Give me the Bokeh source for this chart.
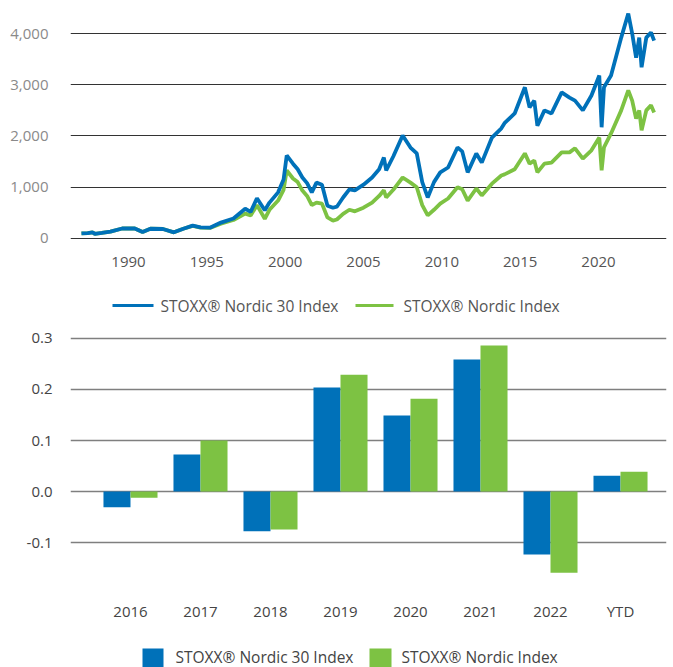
from bokeh.plotting import figure
from bokeh.models import Range1d, FixedTicker, NumeralTickFormatter, ColumnDataSource
from bokeh.core.properties import value
from bokeh.layouts import column
from bokeh.transform import dodge
from bokeh.embed import file_html
from bokeh.resources import INLINE

# ---------------- data: index levels ----------------
years = [1987.0, 1987.4, 1987.7, 1987.85, 1988.3, 1988.85, 1989.6, 1990.4, 1990.9, 1991.4,
         1992.2, 1992.9, 1993.5, 1994.1, 1994.6, 1995.2, 1995.9, 1996.7, 1997.45, 1997.8,
         1998.2, 1998.7, 1999.0, 1999.55, 1999.9, 2000.1, 2000.5, 2000.8, 2001.1, 2001.4,
         2001.7, 2002.0, 2002.35, 2002.7, 2003.05, 2003.3, 2003.7, 2004.1, 2004.45, 2005.0,
         2005.55, 2006.0, 2006.3, 2006.45, 2006.9, 2007.5, 2008.0, 2008.4, 2008.75, 2009.1,
         2009.5, 2009.9, 2010.4, 2011.0, 2011.3, 2011.65, 2012.2, 2012.55, 2013.2, 2013.8,
         2014.0, 2014.65, 2015.3, 2015.6, 2015.9, 2016.1, 2016.55, 2017.0, 2017.65, 2018.15,
         2018.5, 2019.0, 2019.55, 2020.05, 2020.2, 2020.35, 2020.8, 2021.45, 2021.9, 2022.15,
         2022.4, 2022.6, 2022.75, 2023.05, 2023.35, 2023.55]
nordic30 = [98, 105, 118, 92, 110, 135, 195, 195, 125, 190,
            185, 120, 190, 250, 215, 210, 310, 390, 580, 520,
            785, 550, 700, 900, 1150, 1620, 1460, 1350, 1190, 1080,
            900, 1090, 1050, 640, 600, 620, 800, 960, 940, 1050,
            1190, 1350, 1580, 1330, 1600, 2010, 1775, 1660, 1100, 800,
            1100, 1290, 1385, 1775, 1700, 1290, 1660, 1480, 1970, 2150,
            2250, 2440, 2950, 2560, 2690, 2200, 2500, 2440, 2850, 2750,
            2690, 2500, 2790, 3180, 2170, 2950, 3180, 3920, 4390, 4000,
            3530, 3920, 3340, 3920, 4020, 3860]
nordic = [98, 105, 118, 92, 110, 135, 195, 195, 125, 190,
          185, 120, 190, 245, 210, 205, 290, 360, 485, 450,
          650, 385, 560, 740, 950, 1330, 1170, 1100, 935, 830,
          650, 700, 680, 410, 350, 370, 480, 560, 530, 600,
          700, 830, 940, 800, 950, 1190, 1090, 1000, 650, 450,
          560, 680, 780, 1000, 960, 740, 975, 840, 1070, 1230,
          1250, 1350, 1660, 1460, 1520, 1290, 1460, 1480, 1680, 1680,
          1760, 1560, 1720, 1970, 1330, 1780, 2050, 2500, 2890, 2690,
          2340, 2500, 2110, 2500, 2600, 2460]
year_ticks = [1990, 1995, 2000, 2005, 2010, 2015, 2020]
level_ticks = [0, 1000, 2000, 3000, 4000]

# ---------------- data: annual returns ----------------
bar_categories = ["2016", "2017", "2018", "2019", "2020", "2021", "2022", "YTD"]
bar_nordic30 = [-0.031, 0.0725, -0.078, 0.204, 0.149, 0.259, -0.1235, 0.031]
bar_nordic = [-0.012, 0.100, -0.0745, 0.229, 0.182, 0.286, -0.159, 0.039]
return_ticks = [-0.1, 0.0, 0.1, 0.2, 0.3]

series_names = ["STOXX® Nordic 30 Index", "STOXX® Nordic Index"]

BLUE = "#0071B9"
GREEN = "#7DC243"
FONT = "Open Sans"
W = 673
LEFT = 70    # common plot-frame left edge (column aligns frames)
RIGHT = 7    # common right border


def style_axes(p, label_color):
    for ax in (p.xaxis[0], p.yaxis[0]):
        ax.axis_line_color = None
        ax.major_tick_line_color = None
        ax.minor_tick_line_color = None
        ax.major_label_text_font = FONT
        ax.major_label_text_font_size = "15px"
        ax.major_label_text_color = label_color


def legend_strip(height):
    # a strip whose data units equal page pixels (y downward) for the legend key
    f = figure(width=W, height=height, output_backend="svg", toolbar_location=None,
               x_range=Range1d(LEFT, W - RIGHT), y_range=Range1d(height, 0),
               x_axis_location=None, y_axis_location=None,
               min_border_left=LEFT, min_border_right=RIGHT, min_border_top=0, min_border_bottom=0)
    f.outline_line_color = None
    f.grid.visible = False
    return f


# ================= top line chart =================
p1 = figure(width=W, height=285, output_backend="svg", toolbar_location=None,
            x_range=Range1d(1986.30, 2024.34), y_range=Range1d(-20, 4449),
            min_border_left=LEFT, min_border_right=RIGHT, min_border_top=10, min_border_bottom=46)
p1.outline_line_color = None

p1.line(years, nordic, line_color=GREEN, line_width=3.8)
p1.line(years, nordic30, line_color=BLUE, line_width=3.8)

p1.xgrid.grid_line_color = None
p1.ygrid.ticker = FixedTicker(ticks=level_ticks)
p1.ygrid.grid_line_color = "#333333"
p1.ygrid.grid_line_width = 1.2

p1.yaxis.ticker = FixedTicker(ticks=level_ticks)
p1.yaxis.formatter = NumeralTickFormatter(format="0,0")
p1.xaxis.ticker = FixedTicker(ticks=year_ticks)
style_axes(p1, "#555555")
p1.yaxis.major_label_text_color = "#8a8a8a"
p1.yaxis.major_label_standoff = 16
p1.xaxis.major_label_standoff = 11

# legend strip for the line chart (key positions in page pixels)
L1 = legend_strip(40)
L1.segment(x0=[112, 355], x1=[153, 393], y0=[20, 20], y1=[20, 20],
           line_color=[BLUE, GREEN], line_width=3)
L1.text(x=[160, 403], y=[20, 20], text=series_names, text_baseline="middle",
        text_align="left", text_font=value(FONT), text_font_size="15.5px",
        text_color="#555555")

# ================= bottom bar chart =================
idx = list(range(len(bar_categories)))
src = ColumnDataSource(dict(x=idx, n30=bar_nordic30, n=bar_nordic))

p2 = figure(width=W, height=315, output_backend="svg", toolbar_location=None,
            x_range=Range1d(-0.857, 7.657), y_range=Range1d(-0.194, 0.3078),
            min_border_left=LEFT, min_border_right=RIGHT, min_border_top=9, min_border_bottom=50)
p2.outline_line_color = None

bw = 0.386
p2.vbar(x=dodge("x", -bw / 2, range=p2.x_range), top="n30", bottom=0, width=bw,
        source=src, fill_color=BLUE, line_color=None)
p2.vbar(x=dodge("x", bw / 2, range=p2.x_range), top="n", bottom=0, width=bw,
        source=src, fill_color=GREEN, line_color=None)

p2.xgrid.grid_line_color = None
p2.ygrid.ticker = FixedTicker(ticks=return_ticks)
p2.ygrid.grid_line_color = "#7f7f7f"
p2.ygrid.grid_line_width = 1.4

p2.yaxis.ticker = FixedTicker(ticks=return_ticks)
p2.yaxis.formatter = NumeralTickFormatter(format="0.0")
p2.xaxis.ticker = FixedTicker(ticks=idx)
p2.xaxis.major_label_overrides = {i: c for i, c in zip(idx, bar_categories)}
style_axes(p2, "#444444")
p2.yaxis.major_label_standoff = 12
p2.xaxis.major_label_standoff = 4

# legend strip for the bar chart (key positions in page pixels)
L2 = legend_strip(27)
L2.quad(left=[142, 369], right=[163, 391], top=[8, 8], bottom=[29, 29],
        fill_color=[BLUE, GREEN], line_color=None)
L2.text(x=[175, 401], y=[16, 16], text=series_names, text_baseline="middle",
        text_align="left", text_font=value(FONT), text_font_size="15.5px",
        text_color="#444444")

layout = column(p1, L1, p2, L2, spacing=0)
open("out.html", "w").write(file_html(layout, INLINE))
